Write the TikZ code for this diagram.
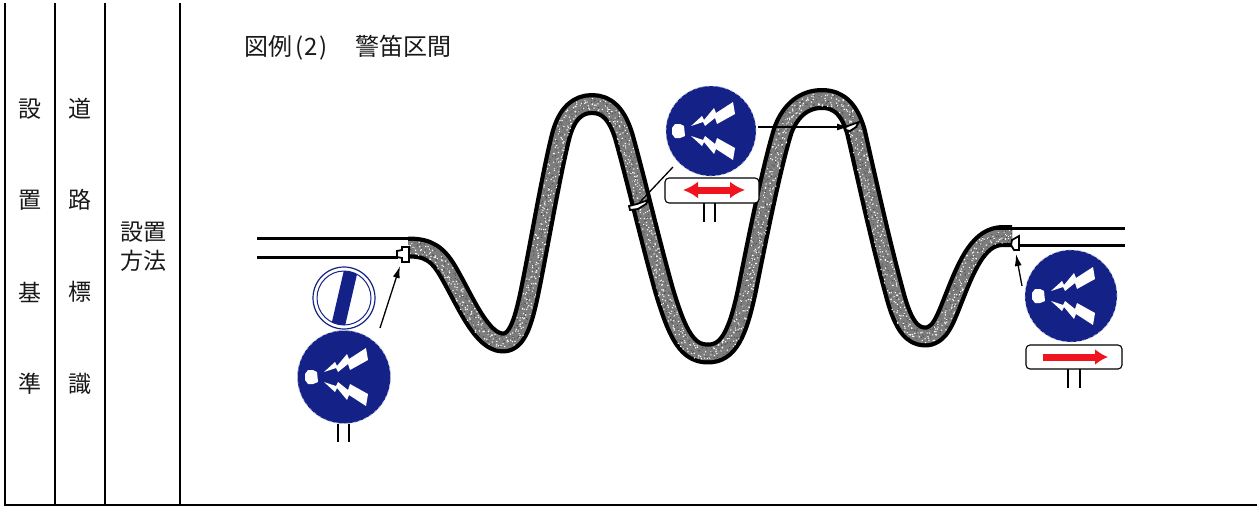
\documentclass[tikz,border=0pt]{standalone}
\usepackage{fontspec}
\setmainfont{Noto Sans CJK JP}
\usetikzlibrary{arrows.meta,decorations.markings}
\definecolor{signblue}{RGB}{20,34,135}
\definecolor{roadgray}{RGB}{125,125,125}
\definecolor{arrowred}{RGB}{240,20,30}
\tikzset{
 rule/.style={line width=1.6pt,black},
 label/.style={font=\fontsize{23}{26}\selectfont,inner sep=0,text=black!90},
 titlelabel/.style={font=\fontsize{24}{26}\selectfont,inner sep=0,text=black!90},
 roadline/.style={line width=3pt,black},
 post/.style={line width=2.2pt,black},
 leader/.style={line width=1.3pt,black},
 leadarrow/.style={leader,-{Latex[length=12pt,width=7pt]}},
 plate/.style={draw=black,line width=1.1pt,rounded corners=4pt,fill=white,inner sep=0},
 blue disc/.style={circle,fill=signblue,draw=white!70!signblue,dashed,line width=.7pt,inner sep=0},
 marker/.style={draw=black,line width=1.8pt,fill=white},
 speckle/.style={decoration={markings,
   mark=between positions 0 and 1 step 1.1pt with {
     \fill[white] ({rand*1.5},{rand*6.5}) rectangle ++(1.1,1.1);
     \fill[black!70] ({rand*1.5},{rand*6.5}) rectangle ++(.9,.9);
   }},decorate},
 pics/horns/.style={code={
  \fill[white] (-36,-7) -- (-31,-7) -- (-27,-5) -- (-26,5) -- (-31,7) -- (-36,7) -- (-39,3) -- (-39,-3) -- cycle;
  \foreach \s in {1,-1}{
   \fill[white,yscale=\s] (-20,-5) -- (-9,-15) -- (-7,-11) -- (3,-23) -- (5,-18) -- (22,-29) -- (24,-17) -- (6,-7) -- (4,-13) -- (-6,-5) -- (-8,-9) -- cycle;
  }
 }}
}
\pgfmathsetseed{7}
\begin{document}
\begin{tikzpicture}[x=1pt,y=-1pt]
\useasboundingbox (0,0) rectangle (1257,506);
% table rules
\draw[rule] (5,3) -- (5,505) -- (1257,505);
\foreach \x in {55,105,180}{\draw[rule] (\x,3) -- (\x,505);}
% table text
\foreach \y/\a/\b in {109/設/道,200/置/路,292/基/標,384/準/識}{
 \node[label] (left\y) at (30,\y) {\a};
 \node[label] (mid\y) at (80,\y) {\b};
}
\node[label] (m1) at (143,232) {設置};
\node[label] (m2) at (143,261) {方法};
\node[titlelabel,anchor=west] (title) at (244,48) {図例\hspace{3pt}(\hspace{1.5pt}2\hspace{1.5pt})\hspace{28pt}警笛区間};
% road
\def\roadpath{(408,247.5) .. controls (428,247.5) and (438,253) .. (450,275)
 .. controls (466,303) and (482,342.5) .. (503,342.5)
 .. controls (518,342.5) and (524,320) .. (531,285)
 .. controls (540,240) and (552,170) .. (561,135)
 .. controls (567,113) and (578,104) .. (592,104)
 .. controls (607,104) and (617,114) .. (624,137)
 .. controls (636,180) and (650,240) .. (664,290)
 .. controls (678,337) and (688,353.5) .. (708,353.5)
 .. controls (728,353.5) and (738,335) .. (748,285)
 .. controls (758,235) and (772,165) .. (783,130)
 .. controls (791,109) and (805,99) .. (822,99)
 .. controls (840,99) and (850,111) .. (856,132)
 .. controls (867,180) and (880,240) .. (895,295)
 .. controls (903,325) and (912,336.5) .. (925,336.5)
 .. controls (940,336.5) and (945,320) .. (955,295)
 .. controls (968,262) and (980,236) .. (1003,236) -- (1012,236)}
\draw[line width=22pt,black,line join=round] \roadpath;
\draw[line width=13.5pt,roadgray,line join=round] \roadpath;
\path[speckle] \roadpath;
% road lines
\draw[roadline] (257,238) -- (412,238);
\draw[roadline] (257,257) -- (398,257);
\draw[roadline] (995,228) -- (1125,228);
\draw[roadline] (1020,245) -- (1125,245);
% markers
\draw[marker] (402,247) -- (409,247) -- (409,262) -- (402,262) -- (402,258) -- (397,257) -- (397,251) -- (402,250) -- cycle;
\draw[marker] (629,206) -- (637,204) -- (648,200) -- (646,204) -- (638,209) -- (630,210) -- cycle;
\draw[marker] (845,127) -- (859,122) -- (856,127) -- (850,131) -- (846,130) -- cycle;
\draw[marker] (1012,240) -- (1019,236) -- (1019,250) -- (1014,250) -- (1011,245) -- cycle;
% sign A
\node[circle,draw=signblue,line width=1.2pt,fill=white,minimum size=62pt,inner sep=0] (endsign) at (344,298) {};
\node[circle,draw=signblue,line width=1pt,minimum size=54pt,inner sep=0] (endring) at (344,298) {};
\begin{scope}
 \clip (344,298) circle (27);
 \fill[signblue] (344,270) -- (358,270) -- (345,326) -- (331,326) -- cycle;
\end{scope}
\draw[post] (338,424) -- (338,442);
\draw[post] (349,424) -- (349,442);
\node[blue disc,minimum size=93pt] (signa) at (344,377) {};
\pic at (344,377) {horns};
% sign B
\draw[post] (704,203) -- (704,222);
\draw[post] (715,203) -- (715,222);
\node[blue disc,minimum size=90pt] (signb) at (711,131) {};
\pic at (711,131) {horns};
\node[plate,minimum width=94pt,minimum height=25pt] (plateb) at (712,190.5) {};
\draw[arrowred,line width=7pt,{Latex[length=15pt,width=17pt]}-{Latex[length=15pt,width=17pt]}] (683,190) -- (745,190);
% sign C
\draw[post] (1068,369) -- (1068,388);
\draw[post] (1080,369) -- (1080,388);
\node[blue disc,minimum size=92pt] (signc) at (1071,296) {};
\pic at (1071,296) {horns};
\node[plate,minimum width=96pt,minimum height=24pt] (platec) at (1074,357) {};
\draw[arrowred,line width=7pt,-{Latex[length=13pt,width=16pt]}] (1043,357) -- (1108,357);
% leaders
\coordinate (ta) at (400,266);
\coordinate (sa) at (380,328);
\draw[leadarrow] (sa) -- (ta);
\coordinate (tb) at (640,202);
\coordinate (sb) at (673,167);
\draw[leader] (sb) -- (tb);
\coordinate (tc) at (849,127);
\coordinate (sc) at (758,127);
\draw[leadarrow] (sc) -- (tc);
\coordinate (td) at (1016,254);
\coordinate (sd) at (1022,286);
\draw[leadarrow] (sd) -- (td);
\end{tikzpicture}
\end{document}
